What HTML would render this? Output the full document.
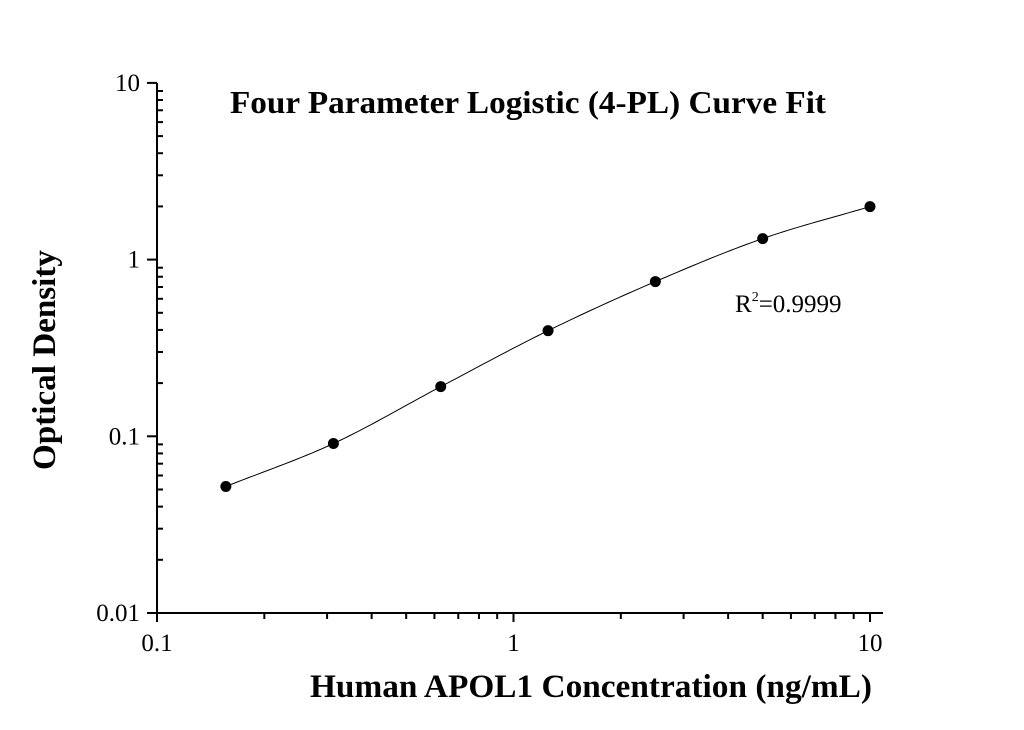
<!DOCTYPE html>
<html><head><meta charset="utf-8"><style>
body{margin:0;background:#fff}
svg{display:block;font-family:"Liberation Serif",serif}
</style></head><body>
<svg id="chart" width="1024" height="730" viewBox="0 0 1024 730">
<text x="528" y="113" text-anchor="middle" font-size="32" font-weight="bold" textLength="596" lengthAdjust="spacingAndGlyphs">Four Parameter Logistic (4-PL) Curve Fit</text>
<text x="591" y="697" text-anchor="middle" font-size="33" font-weight="bold" textLength="562" lengthAdjust="spacingAndGlyphs">Human APOL1 Concentration (ng/mL)</text>
<text transform="translate(55,360) rotate(-90)" text-anchor="middle" font-size="33" font-weight="bold" textLength="220" lengthAdjust="spacingAndGlyphs">Optical Density</text>
<text x="735" y="312" font-size="25">R<tspan dy="-11" font-size="14">2</tspan><tspan dy="11">=0.9999</tspan></text>
<g id="axes"></g>
<path id="curve" fill="none" stroke="#000" stroke-width="1"></path>
<g id="points"></g>
</svg>
<script>
const concentrations=[0.156,0.3125,0.625,1.25,2.5,5,10];
const odValues=[0.052,0.091,0.191,0.396,0.751,1.315,1.995];
const xTickLabels=["0.1","1","10"];
const yTickLabels=["0.01","0.1","1","10"];
const NS="http://www.w3.org/2000/svg";
const X0=157,XD=356.5,Y0=613,YD=176.7;
function xs(v){return X0+(Math.log10(v)+1)*XD;}
function ys(v){return Y0-(Math.log10(v)+2)*YD;}
function mk(tag,attrs,parent){const e=document.createElementNS(NS,tag);for(const k in attrs)e.setAttribute(k,attrs[k]);parent.appendChild(e);return e;}
const ax=document.getElementById('axes');
let xl=mk('line',{x1:147,y1:Y0,x2:883,y2:Y0,stroke:'#000','stroke-width':2},ax);


let yl=mk('line',{x1:X0,y1:83,x2:X0,y2:Y0+8,stroke:'#000','stroke-width':2},ax);


xTickLabels.forEach(l=>{const v=parseFloat(l),x=xs(v);
 mk('line',{x1:x,y1:Y0,x2:x,y2:Y0+9,stroke:'#000','stroke-width':2},ax);
 const t=mk('text',{x:x,y:Y0+38,'text-anchor':'middle','font-size':25},ax);t.textContent=l;
 
 
 if(v<10)for(let m=2;m<=9;m++){const xm=xs(v*m);mk('line',{x1:xm,y1:Y0,x2:xm,y2:Y0+6,stroke:'#000','stroke-width':2},ax);}
});
yTickLabels.forEach(l=>{const v=parseFloat(l),y=ys(v);
 mk('line',{x1:147,y1:y,x2:X0,y2:y,stroke:'#000','stroke-width':2},ax);
 const t=mk('text',{x:140,y:y+8,'text-anchor':'end','font-size':25},ax);t.textContent=l;
 
 
 if(v<10)for(let m=2;m<=9;m++){const ym=ys(v*m);mk('line',{x1:X0,y1:ym,x2:X0+6,y2:ym,stroke:'#000','stroke-width':2},ax);}
});
const lx=concentrations.map(Math.log10),ly=odValues.map(Math.log10),n=lx.length;
const d=[],m=[];for(let i=0;i<n-1;i++)d.push((ly[i+1]-ly[i])/(lx[i+1]-lx[i]));
m[0]=d[0];m[n-1]=d[n-2];for(let i=1;i<n-1;i++)m[i]=(d[i-1]+d[i])/2;
let p="";
for(let i=0;i<n-1;i++){const h=lx[i+1]-lx[i];for(let k=0;k<=20;k++){const t=k/20,t2=t*t,t3=t2*t;
 const yv=(2*t3-3*t2+1)*ly[i]+(t3-2*t2+t)*h*m[i]+(-2*t3+3*t2)*ly[i+1]+(t3-t2)*h*m[i+1];
 const xv=lx[i]+t*h;p+=(p?"L":"M")+xs(Math.pow(10,xv)).toFixed(2)+","+ys(Math.pow(10,yv)).toFixed(2);}}
document.getElementById('curve').setAttribute('d',p);
const pg=document.getElementById('points');
concentrations.forEach((c,i)=>{const e=mk('circle',{cx:xs(c),cy:ys(odValues[i]),r:5.5,fill:'#000'},pg);
 
 });
</script>
</body></html>
